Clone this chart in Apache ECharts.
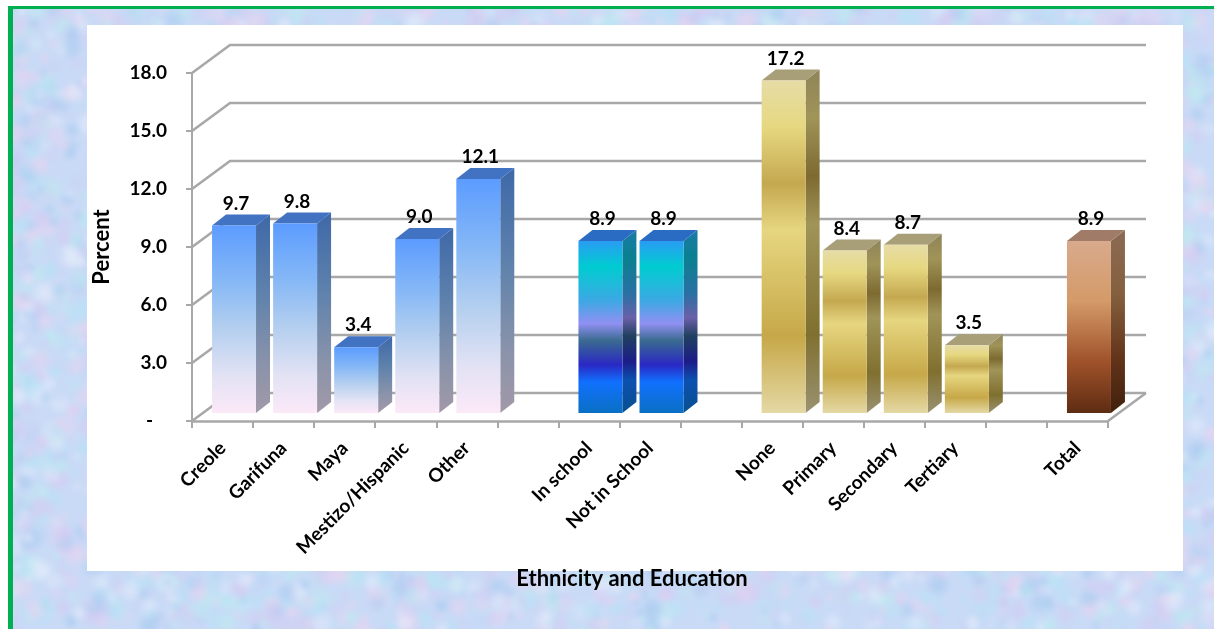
<!DOCTYPE html>
<html>
<head>
<meta charset="utf-8">
<style>html,body{margin:0;padding:0;background:#fff}#c{width:1214px;height:629px}</style>
<script src="https://cdn.jsdelivr.net/npm/echarts@6/dist/echarts.min.js"></script>
</head>
<body>
<div id="c"></div>
<script>
const categories = ['Creole','Garifuna','Maya','Mestizo/Hispanic','Other',' ','In school','Not in School','  ','None','Primary','Secondary','Tertiary','   ','Total'];
const yTicks = [0,3,6,9,12,15,18];
const ethnicityNames = ['Creole','Garifuna','Maya','Mestizo/Hispanic','Other'];
const ethnicityValues = [9.7,9.8,3.4,9.0,12.1];
const schoolNames = ['In school','Not in School'];
const schoolValues = [8.9,8.9];
const educationNames = ['None','Primary','Secondary','Tertiary'];
const educationValues = [17.2,8.4,8.7,3.5];
const totalNames = ['Total'];
const totalValues = [8.9];

const FONT = 'Lato, Carlito, "Open Sans", sans-serif';
const DEPTH = {x: 38, y: 28};        // wall depth
const BAR = {x: 14, y: 11, fx: 11.5, fy: 8}; // bar depth, and bar setback from the front edge

function grad(stops){
  return {type:'linear',x:0,y:0,x2:0,y2:1,colorStops:stops.map(s=>({offset:s[0],color:s[1]}))};
}
const STYLES = {
  blue:{
    front:grad([[0,'#5c9cff'],[.3,'#86b8f6'],[.55,'#b4cfef'],[.8,'#e2e2f4'],[1,'#fce9f8']]),
    side:grad([[0,'#3e68a8'],[.4,'#5f82ac'],[.75,'#8a93aa'],[1,'#a299a8']]),
    top:'#4272c2'},
  teal:{
    front:grad([[0,'#2a9cf4'],[.15,'#00ccd0'],[.35,'#3ea8e4'],[.48,'#9090f2'],[.58,'#3a6a90'],[.72,'#2a28c4'],[.82,'#1070fe'],[1,'#0a70c4']]),
    side:grad([[0,'#1a7aa8'],[.15,'#0a8090'],[.35,'#2a70a4'],[.48,'#6a60a8'],[.58,'#204060'],[.72,'#1c1c88'],[.82,'#0c50b0'],[1,'#085090']]),
    top:'#2a6cc4'},
  gold:{
    front:grad([[0,'#e6dca6'],[.14,'#e6d880'],[.31,'#c4a850'],[.45,'#e6d680'],[.77,'#c6a848'],[1,'#e4d8a4']]),
    side:grad([[0,'#8e8458'],[.14,'#a09458'],[.31,'#7d6a30'],[.45,'#a09458'],[.77,'#80702f'],[1,'#9a9272']]),
    top:'#a89e78'},
  brown:{
    front:grad([[0,'#d8aa8c'],[.35,'#d49a68'],[.7,'#a0522a'],[1,'#5e2c12']]),
    side:grad([[0,'#8c6a54'],[.35,'#84603e'],[.7,'#63341a'],[1,'#40200c']]),
    top:'#a07c68'}
};

function barItem(style){
  return function(params, api){
    const base = api.coord([api.value(0),0]);
    const topP = api.coord([api.value(0),api.value(1)]);
    const w = api.size([1,0])[0]*0.72;
    const x0 = base[0]+BAR.fx-w/2, x1 = x0+w;
    const yb = base[1]-BAR.fy, yt = topP[1]-BAR.fy;
    return {type:'group',children:[
      {type:'polygon',shape:{points:[[x1,yb],[x1+BAR.x,yb-BAR.y],[x1+BAR.x,yt-BAR.y],[x1,yt]]},style:{fill:style.side}},
      {type:'polygon',shape:{points:[[x0,yt],[x0+BAR.x,yt-BAR.y],[x1+BAR.x,yt-BAR.y],[x1,yt]]},style:{fill:style.top}},
      {type:'rect',shape:{x:x0,y:yt,width:w,height:yb-yt},style:{fill:style.front}},
      {type:'text',z2:50,style:{text:api.value(1).toFixed(1),x:(x0+x1)/2+2,y:yt-22,align:'center',verticalAlign:'middle',
        fill:'#000',fontFamily:FONT,fontWeight:'bold',fontSize:19}}
    ]};
  };
}
function wallItem(params, api){
  const cs = params.coordSys, v = api.value(1);
  const y = api.coord([0,v])[1], xa = cs.x, xb = cs.x+cs.width;
  const line = {stroke:'#a8a8a8',lineWidth:2.6,fill:null};
  const kids = [{type:'polyline',shape:{points:[[xa,y],[xa+DEPTH.x,y-DEPTH.y],[xb+DEPTH.x,y-DEPTH.y]]},style:line}];
  if(v===0) kids.push({type:'polyline',shape:{points:[[xb,y],[xb+DEPTH.x,y-DEPTH.y]]},style:line});
  return {type:'group',children:kids};
}
function barSeries(name,names,values,style){
  return {name,type:'custom',renderItem:barItem(style),encode:{x:0,y:1},silent:true,z:5,
    data:names.map((n,i)=>[categories.indexOf(n),values[i]])};
}

// mottled paper texture of the page behind the chart
function texture(){
  const a=document.createElement('canvas');a.width=1214;a.height=629;
  const g=a.getContext('2d');g.fillStyle='#c8daf6';g.fillRect(0,0,1214,629);
  let s=12345;const r=()=>(s=(s*1103515245+12345)&0x7fffffff)/0x7fffffff;
  const tints=['212,204,242','184,226,246','172,204,240','226,234,250','230,212,240','190,232,240','202,212,246'];
  for(let i=0;i<14000;i++){
    const x=r()*1214,y=r()*629,R=4+r()*10,t=tints[Math.floor(r()*tints.length)];
    const h=g.createRadialGradient(x,y,0,x,y,R);
    h.addColorStop(0,'rgba('+t+',0.45)');h.addColorStop(1,'rgba('+t+',0)');
    g.fillStyle=h;g.fillRect(x-R,y-R,2*R,2*R);
  }
  const c=document.createElement('canvas');c.width=1214;c.height=629;
  const k=c.getContext('2d');k.drawImage(a,0,0);k.filter='blur(2.5px)';k.drawImage(a,0,0);
  return c;
}

const chart = echarts.init(document.getElementById('c'),null,{renderer:'canvas'});
chart.setOption({
  animation:false,
  backgroundColor:'#fff',
  graphic:[
    {type:'image',z:-30,silent:true,style:{image:texture(),x:0,y:0,width:1214,height:629}},
    {type:'rect',z:-29,silent:true,shape:{x:0,y:0,width:8,height:629},style:{fill:'#fff'}},
    {type:'rect',z:-29,silent:true,shape:{x:0,y:0,width:1214,height:6},style:{fill:'#fff'}},
    {type:'rect',z:-28,silent:true,shape:{x:8,y:6,width:5,height:623},style:{fill:'#00b050'}},
    {type:'rect',z:-28,silent:true,shape:{x:8,y:6,width:1206,height:3},style:{fill:'#00b050'}},
    {type:'rect',z:-27,silent:true,shape:{x:87,y:25,width:1096,height:546},style:{fill:'#fff'}}
  ],
  grid:{left:192,right:106,top:73,bottom:208,containLabel:false},
  xAxis:{type:'category',data:categories,
    name:'Ethnicity and Education',nameLocation:'middle',nameGap:147,
    nameTextStyle:{color:'#000',fontFamily:FONT,fontWeight:'bold',fontSize:22,padding:[0,36,0,0]},
    axisLine:{lineStyle:{color:'#a8a8a8',width:2.6}},
    axisTick:{show:true,alignWithLabel:false,length:7,lineStyle:{color:'#a8a8a8',width:2}},
    axisLabel:{interval:0,rotate:45,margin:24,color:'#000',fontFamily:FONT,fontWeight:'bold',fontSize:19},
    splitLine:{show:false}},
  yAxis:{type:'value',min:0,max:18,interval:3,
    name:'Percent',nameLocation:'middle',nameGap:79,
    nameTextStyle:{color:'#000',fontFamily:FONT,fontWeight:'bold',fontSize:22},
    axisLine:{show:true,lineStyle:{color:'#a8a8a8',width:2}},
    axisTick:{show:true,length:6,lineStyle:{color:'#a8a8a8',width:2}},
    axisLabel:{margin:25,padding:[6,0,0,0],color:'#000',fontFamily:FONT,fontWeight:'bold',fontSize:19,
      formatter:v=>v===0?'-   ':v.toFixed(1)},
    splitLine:{show:false}},
  series:[
    {name:'Wall',type:'custom',renderItem:wallItem,encode:{y:1},silent:true,z:1,data:yTicks.map(v=>[0,v])},
    barSeries('Ethnicity',ethnicityNames,ethnicityValues,STYLES.blue),
    barSeries('School',schoolNames,schoolValues,STYLES.teal),
    barSeries('Education',educationNames,educationValues,STYLES.gold),
    barSeries('Total',totalNames,totalValues,STYLES.brown)
  ]
});
</script>
</body>
</html>
